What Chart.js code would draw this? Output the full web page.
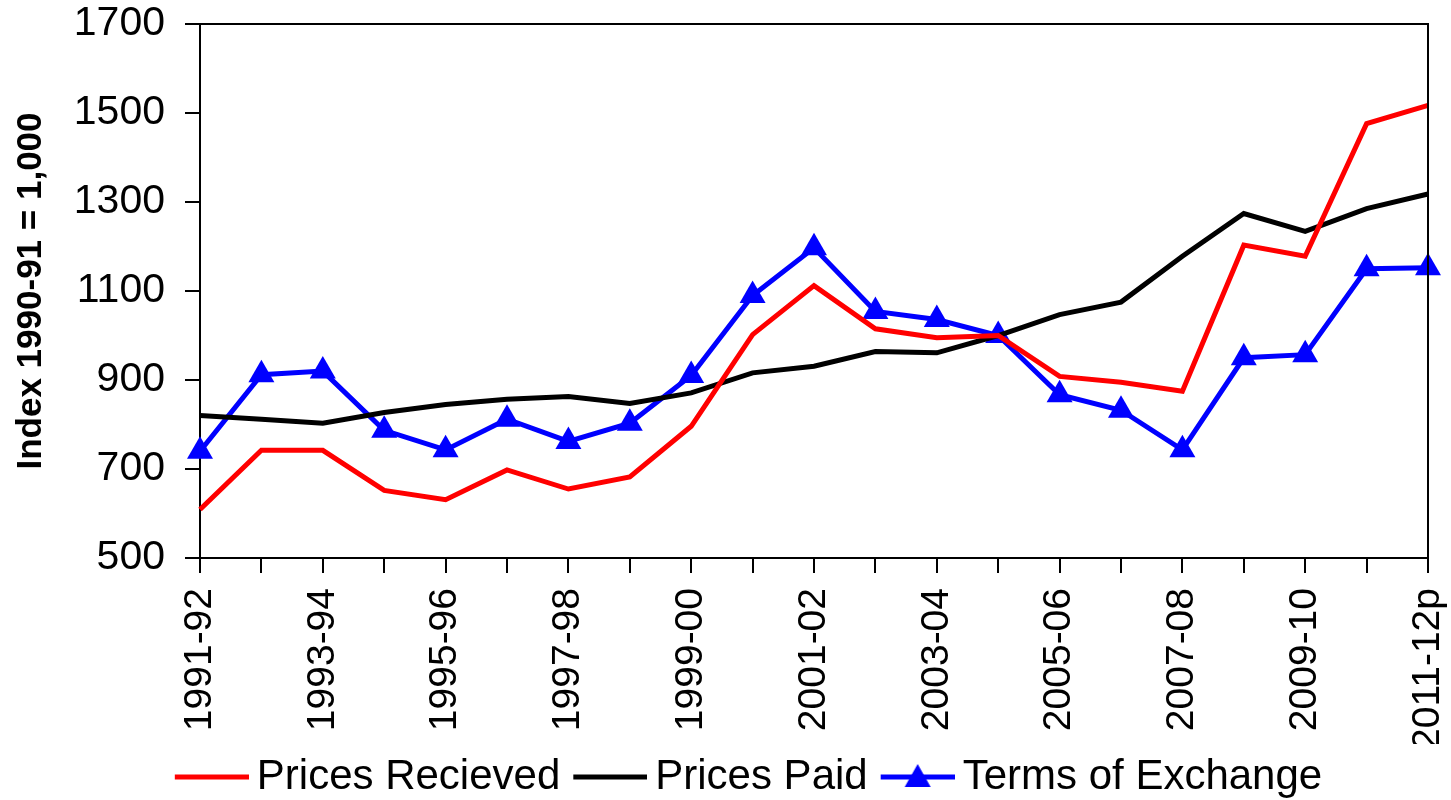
<!DOCTYPE html>
<html>
<head>
<meta charset="utf-8">
<script src="https://cdn.jsdelivr.net/npm/chart.js@4/dist/chart.umd.min.js"></script>
<style>
  html, body { margin: 0; padding: 0; background: #fff; }
  #wrap { width: 1451px; height: 800px; }
</style>
</head>
<body>
<div id="wrap"><canvas id="myChart"></canvas></div>
<script>
const years = ['1991-92', '1992-93', '1993-94', '1994-95', '1995-96', '1996-97', '1997-98',
  '1998-99', '1999-00', '2000-01', '2001-02', '2002-03', '2003-04', '2004-05', '2005-06',
  '2006-07', '2007-08', '2008-09', '2009-10', '2010-11', '2011-12p'];

const pricesReceived = [609, 742, 742, 652, 631, 698, 655, 682, 796, 1002, 1112, 1015, 995, 1000, 908, 895, 875, 1203, 1178, 1476, 1517];
const pricesPaid = [820, 812, 803, 827, 845, 857, 863, 847, 871, 916, 931, 964, 961, 1000, 1047, 1075, 1178, 1274, 1234, 1285, 1318];
const termsOfExchange = [740, 912, 920, 787, 743, 812, 762, 803, 910, 1090, 1197, 1054, 1036, 1000, 867, 832, 743, 950, 957, 1150, 1152];

const yMin = 500, yMax = 1700, yStep = 200;

const FONT = 'Liberation Sans, Arial, sans-serif';

// legend samples: short line (plus triangle for terms), shifted right inside the image
function sample(color, withTriangle) {
  const c = document.createElement('canvas');
  c.width = 88; c.height = 30;
  const g = c.getContext('2d');
  g.strokeStyle = color;
  g.lineWidth = 5;
  g.beginPath();
  g.moveTo(14, 15);
  g.lineTo(88, 15);
  g.stroke();
  if (withTriangle) {
    g.fillStyle = color;
    g.beginPath();
    g.moveTo(51, 2);
    g.lineTo(64, 25);
    g.lineTo(38, 25);
    g.closePath();
    g.fill();
  }
  return c;
}
const samples = [sample('#ff0000', false), sample('#000000', false), sample('#0000ff', true)];

// top and right edges of the plot box
const frame = {
  id: 'frame',
  afterDatasetsDraw(chart) {
    const a = chart.chartArea, ctx = chart.ctx;
    ctx.save();
    ctx.strokeStyle = '#000';
    ctx.lineWidth = 2;
    ctx.beginPath();
    ctx.moveTo(a.left, a.top);
    ctx.lineTo(a.right, a.top);
    ctx.lineTo(a.right, a.bottom);
    ctx.stroke();
    ctx.restore();
  }
};

const ctx = document.getElementById('myChart');

new Chart(ctx, {
  type: 'line',
  data: {
    labels: years,
    datasets: [
      {
        label: 'Prices Recieved',
        data: pricesReceived,
        borderColor: '#ff0000',
        backgroundColor: '#ff0000',
        borderWidth: 5,
        pointRadius: 0,
        tension: 0
      },
      {
        label: 'Prices Paid',
        data: pricesPaid,
        borderColor: '#000000',
        backgroundColor: '#000000',
        borderWidth: 5,
        pointRadius: 0,
        tension: 0
      },
      {
        label: 'Terms of Exchange',
        data: termsOfExchange,
        borderColor: '#0000ff',
        backgroundColor: '#0000ff',
        borderWidth: 5,
        pointStyle: 'triangle',
        pointRadius: 15,
        pointBorderWidth: 0,
        tension: 0
      }
    ]
  },
  plugins: [frame],
  options: {
    responsive: true,
    maintainAspectRatio: false,
    animation: false,
    layout: { padding: { top: 24, left: 68, right: 23, bottom: -8 } },
    plugins: {
      tooltip: { enabled: false },
      legend: {
        position: 'bottom',
        labels: {
          usePointStyle: true,
          pointStyleWidth: 62,
          padding: 12,
          color: '#000',
          font: { family: FONT, size: 42 },
          generateLabels(chart) {
            const items = Chart.defaults.plugins.legend.labels.generateLabels(chart);
            items.forEach((it, i) => { it.pointStyle = samples[i]; });
            return items;
          }
        }
      }
    },
    scales: {
      x: {
        border: { color: '#000', width: 2 },
        grid: { display: true, drawOnChartArea: false, color: '#000', lineWidth: 2, tickLength: 15 },
        ticks: {
          autoSkip: false,
          maxRotation: 90,
          minRotation: 90,
          padding: 15,
          color: '#000',
          font: { family: FONT, size: 39 },
          callback: function (v, i) { return i % 2 === 0 ? this.getLabelForValue(v) : ''; }
        },
        afterFit(scale) {
          scale.height = 186;
          scale.paddingLeft = 0;
          scale.paddingRight = 0;
        }
      },
      y: {
        min: yMin,
        max: yMax,
        border: { color: '#000', width: 2 },
        grid: { display: true, drawOnChartArea: false, color: '#000', lineWidth: 2, tickLength: 15 },
        ticks: {
          stepSize: yStep,
          padding: 20,
          color: '#000',
          font: { family: FONT, size: 41 },
          callback: v => String(v)
        },
        title: {
          display: true,
          text: 'Index 1990-91 = 1,000',
          color: '#000',
          padding: { top: -58, bottom: 10 },
          font: { family: FONT, size: 35, weight: 'bold' }
        },
        afterFit(scale) {
          scale.width = 132;
          scale.paddingTop = 0;
          scale.paddingBottom = 0;
        }
      }
    }
  }
});
</script>
</body>
</html>
